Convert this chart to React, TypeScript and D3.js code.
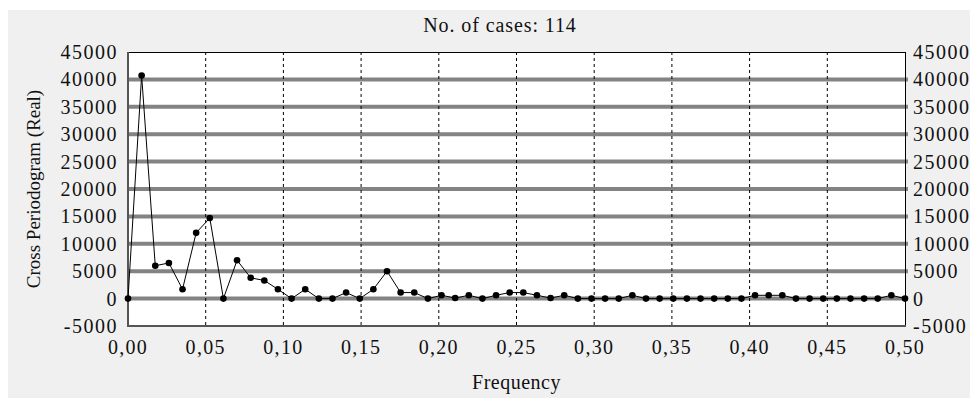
import React, { useRef, useEffect } from "react";
import * as d3 from "d3";

// 114 cases -> frequencies k/114, k = 0..57
const nCases = 114;
const crossReal = [
  0, 40700, 6000, 6500, 1700, 12000, 14700, 0, 7000, 3800,
  3300, 1700, 0, 1700, 0, 0, 1100, 0, 1700, 5000,
  1100, 1100, 0, 600, 100, 600, 0, 600, 1100, 1100,
  600, 100, 600, 0, 0, 0, 0, 600, 0, 0,
  0, 0, 0, 0, 0, 0, 600, 600, 600, 0,
  0, 0, 0, 0, 0, 0, 600, 0,
];
const yTicks = [-5000, 0, 5000, 10000, 15000, 20000, 25000, 30000, 35000, 40000, 45000];
const xTicks = [0, 0.05, 0.1, 0.15, 0.2, 0.25, 0.3, 0.35, 0.4, 0.45, 0.5];

const W = 970;
const H = 391;
const margin = { left: 120, top: 44, right: 73, bottom: 73 };
const font = "'Liberation Serif', 'Times New Roman', serif";

export default function App() {
  const svgRef = useRef<SVGSVGElement>(null);

  useEffect(() => {
    const svg = d3.select(svgRef.current);
    svg.selectAll("*").remove();

    const x0 = margin.left;
    const x1 = W - margin.right;
    const y0 = margin.top;
    const y1 = H - margin.bottom;

    const x = d3.scaleLinear().domain([0, 0.5]).range([x0, x1]);
    const y = d3.scaleLinear().domain([-5000, 45000]).range([y1, y0]);

    const data = crossReal.map((v, i) => ({ f: i / nCases, v }));

    // panel
    svg.append("rect").attr("x", 0).attr("y", 2).attr("width", W).attr("height", H - 3).attr("fill", "#f0f0f0");
    svg.append("rect").attr("x", x0).attr("y", y0).attr("width", x1 - x0).attr("height", y1 - y0).attr("fill", "#fff");

    // horizontal grid (thick gray)
    svg.append("g")
      .selectAll("line")
      .data(yTicks.filter((t) => t > -5000 && t < 45000))
      .join("line")
      .attr("x1", x0)
      .attr("x2", x1 + 3)
      .attr("y1", (d) => y(d))
      .attr("y2", (d) => y(d))
      .attr("stroke", "#838383")
      .attr("stroke-width", 4);

    // vertical dashed grid
    svg.append("g")
      .selectAll("line")
      .data(xTicks.filter((t) => t > 0 && t < 0.5))
      .join("line")
      .attr("x1", (d) => x(d))
      .attr("x2", (d) => x(d))
      .attr("y1", y0)
      .attr("y2", y1)
      .attr("stroke", "#000")
      .attr("stroke-width", 1)
      .attr("stroke-dasharray", "3,3");

    // frame
    svg.append("line").attr("x1", x0).attr("x2", x1).attr("y1", y0 + 0.5).attr("y2", y0 + 0.5).attr("stroke", "#000");
    svg.append("line").attr("x1", x1 + 0.5).attr("x2", x1 + 0.5).attr("y1", y0).attr("y2", y1).attr("stroke", "#000");
    svg.append("line").attr("x1", x0).attr("x2", x0).attr("y1", y0).attr("y2", y1 + 1).attr("stroke", "#555").attr("stroke-width", 2);
    svg.append("line").attr("x1", x0).attr("x2", x1 + 1).attr("y1", y1).attr("y2", y1).attr("stroke", "#555").attr("stroke-width", 2);

    // series
    const line = d3.line<{ f: number; v: number }>().x((d) => x(d.f)).y((d) => y(d.v));
    svg.append("path").datum(data).attr("d", line).attr("fill", "none").attr("stroke", "#000").attr("stroke-width", 1);
    svg.append("g")
      .selectAll("circle")
      .data(data)
      .join("circle")
      .attr("cx", (d) => x(d.f))
      .attr("cy", (d) => y(d.v))
      .attr("r", 3.3)
      .attr("fill", "#000");

    // tick labels
    const txt = (g: d3.Selection<SVGGElement, unknown, null, undefined>, ls: number, size = 20) =>
      g.attr("font-family", font).attr("font-size", size).attr("letter-spacing", ls).attr("fill", "#111");

    txt(svg.append("g"), 1.5)
      .selectAll("text")
      .data(yTicks)
      .join("text")
      .attr("x", x0 - 10)
      .attr("y", (d) => y(d))
      .attr("dy", "0.35em")
      .attr("text-anchor", "end")
      .text((d) => String(d));
    txt(svg.append("g"), 1.5)
      .selectAll("text")
      .data(yTicks)
      .join("text")
      .attr("x", x1 + 8)
      .attr("y", (d) => y(d))
      .attr("dy", "0.35em")
      .attr("text-anchor", "start")
      .text((d) => String(d));

    const fmt = d3.format(".2f");
    txt(svg.append("g"), 1.3)
      .selectAll("text")
      .data(xTicks)
      .join("text")
      .attr("x", (d) => x(d))
      .attr("y", y1 + 28)
      .attr("text-anchor", "middle")
      .text((d) => fmt(d).replace(".", ","));

    // titles
    txt(svg.append("g"), 0.9)
      .append("text")
      .attr("x", 492)
      .attr("y", 24)
      .attr("text-anchor", "middle")
      .text("No. of cases: 114");
    txt(svg.append("g"), 0.5)
      .append("text")
      .attr("x", (x0 + x1) / 2)
      .attr("y", 381)
      .attr("text-anchor", "middle")
      .text("Frequency");
    txt(svg.append("g"), 0, 19)
      .append("text")
      .attr("transform", `translate(32,${(y0 + y1) / 2}) rotate(-90)`)
      .attr("text-anchor", "middle")
      .text("Cross Periodogram (Real)");
  }, []);

  return <svg ref={svgRef} width={W} height={H} style={{ display: "block" }} />;
}
